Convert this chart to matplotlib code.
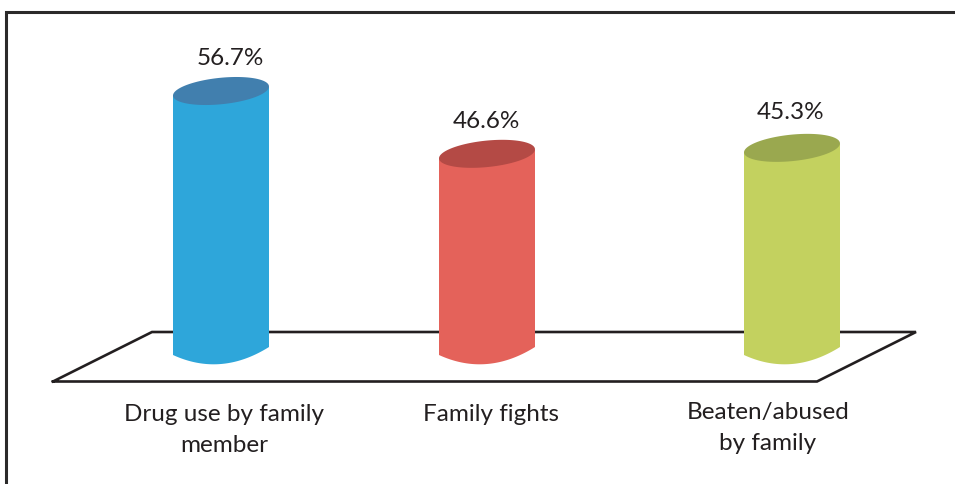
import matplotlib
matplotlib.use('Agg')
import matplotlib.pyplot as plt
import numpy as np

plt.rcParams['font.family'] = ['Lato', 'DejaVu Sans']

# Data
categories = ['Drug use by family\nmember', 'Family fights', 'Beaten/abused\nby family']
values = [56.7, 46.6, 45.3]
value_labels = ['56.7%', '46.6%', '45.3%']

# The drawing is not quite to scale, so the red and green bars get a small correction (in %)
drawn_correction = [0.0, -3.6, -1.0]

side_colors = ['#2ea6da', '#e4625a', '#c3d15f']
top_colors = ['#417fae', '#b44a45', '#9aa84f']
text_color = '#231f20'

# Layout, in pixels of the 955x485 picture
bar_x = [221, 487, 792]
value_x = [230, 486, 791]
value_gap = [33.5, 33, 36]
cat_x = [224, 491, 768]
cat_y = [430, 415, 428]
base_y = 352
px_per_pct = 260 / 56.7
a, b = 48.2, 13.2
tilt = np.radians(5.8)
half_w = 48
sag = 13


def ellipse(cx, cy):
	t = np.linspace(0, 2 * np.pi, 361)
	x = cx + a * np.cos(t) * np.cos(tilt) + b * np.sin(t) * np.sin(tilt)
	y = cy - a * np.cos(t) * np.sin(tilt) + b * np.sin(t) * np.cos(tilt)
	return x, y


def bottom_edge(cx, cy):
	# shallow arc that meets the sides at a corner
	u = np.linspace(-1, 1, 121)
	x = cx + half_w * u
	y = cy - 4 * u + sag * (1 - u ** 2)
	return x, y


fig = plt.figure(figsize=(9.55, 4.85), dpi=100)
ax = fig.add_axes([0, 0, 1, 1])
ax.set_xlim(0, 955)
ax.set_ylim(485, 0)
ax.axis('off')

# Outer frame, runs off the right and bottom edges
ax.plot([6, 6, 960], [490, 12.5, 12.5], color='#2b2a2a', lw=2.2, solid_joinstyle='miter')

# Floor
floor_x = [53, 817, 916, 152, 53]
floor_y = [382.5, 382.5, 333, 333, 382.5]
ax.plot(floor_x, floor_y, color=text_color, lw=1.9, solid_joinstyle='miter')

for i in range(len(values)):
	height = (values[i] + drawn_correction[i]) * px_per_pct
	top_y = base_y - height

	bx, by = bottom_edge(bar_x[i], base_y)
	ax.fill(np.r_[bx, bx[-1], bx[0]], np.r_[by, top_y - 4, top_y + 4], color=side_colors[i], lw=0, zorder=3)

	ex, ey = ellipse(bar_x[i], top_y)
	ax.fill(ex, ey, color=top_colors[i], lw=0, zorder=4)

	ax.text(value_x[i], top_y - value_gap[i], value_labels[i], ha='center', va='center',
		fontsize=17.5, color=text_color)
	ax.text(cat_x[i], cat_y[i], categories[i], ha='center', va='center',
		fontsize=17.5, color=text_color, linespacing=1.58)

fig.savefig('out.png', dpi=100)
